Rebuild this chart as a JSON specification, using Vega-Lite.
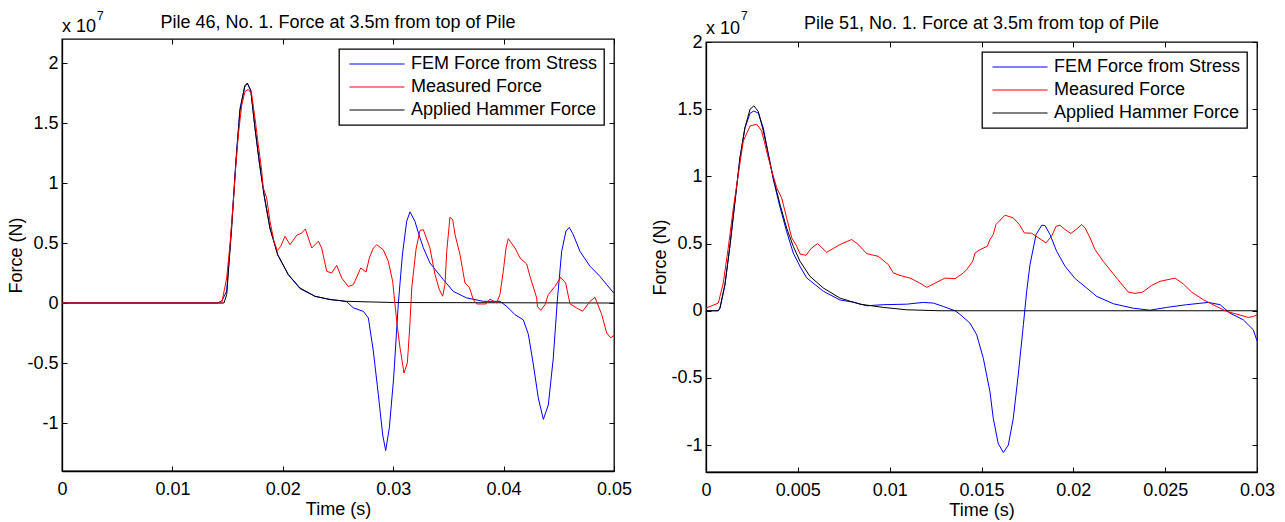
{
  "$schema": "https://vega.github.io/schema/vega-lite/v6.json",
  "autosize": {"type": "pad"},
  "padding": {"left": 7, "top": 9, "right": 5, "bottom": 5},
  "background": "white",
  "spacing": 92,
  "bounds": "flush",
  "config": {
    "font": "Liberation Sans",
    "view": {"stroke": "black", "strokeWidth": 1.3},
    "axis": {"labelFont": "Liberation Sans", "labelFontSize": 18, "labelColor": "black", "titleFont": "Liberation Sans", "titleFontSize": 18, "titleFontWeight": "normal", "titleColor": "black", "domainColor": "black", "domainWidth": 1.3, "tickColor": "black", "tickSize": -5, "tickWidth": 1, "grid": false, "labelFlush": false, "labelOverlap": false},
    "axisX": {"labelPadding": 14, "titlePadding": 2},
    "axisY": {"labelPadding": 9, "titlePadding": 1},
    "title": {"font": "Liberation Sans", "fontSize": 18, "fontWeight": "normal", "color": "black", "frame": "group", "baseline": "alphabetic", "anchor": "middle"},
    "text": {"font": "Liberation Sans", "fontWeight": "normal"},
    "legend": {"orient": "top-right", "offset": 10, "strokeColor": "black", "strokeWidth": 1.3, "fillColor": "white", "padding": 6, "symbolType": "M-5,0H5", "symbolSize": 121, "symbolStrokeWidth": 1, "symbolOffset": 23, "labelOffset": 25, "labelLimit": 0, "labelFont": "Liberation Sans", "labelFontSize": 18, "labelColor": "black", "rowPadding": 5, "cornerRadius": 0}
  },
  "datasets": {
    "p46": [
      {"series": "FEM Force from Stress", "t": 0, "f": 0},
      {"series": "FEM Force from Stress", "t": 0.0141, "f": 0},
      {"series": "FEM Force from Stress", "t": 0.0145, "f": 0.02},
      {"series": "FEM Force from Stress", "t": 0.01492, "f": 0.1},
      {"series": "FEM Force from Stress", "t": 0.01537, "f": 0.65},
      {"series": "FEM Force from Stress", "t": 0.01576, "f": 1.2},
      {"series": "FEM Force from Stress", "t": 0.01612, "f": 1.62},
      {"series": "FEM Force from Stress", "t": 0.01655, "f": 1.8},
      {"series": "FEM Force from Stress", "t": 0.01679, "f": 1.83},
      {"series": "FEM Force from Stress", "t": 0.0171, "f": 1.77},
      {"series": "FEM Force from Stress", "t": 0.01748, "f": 1.46},
      {"series": "FEM Force from Stress", "t": 0.01787, "f": 1.17},
      {"series": "FEM Force from Stress", "t": 0.0183, "f": 0.9},
      {"series": "FEM Force from Stress", "t": 0.01884, "f": 0.62},
      {"series": "FEM Force from Stress", "t": 0.01954, "f": 0.4},
      {"series": "FEM Force from Stress", "t": 0.0205, "f": 0.235},
      {"series": "FEM Force from Stress", "t": 0.02156, "f": 0.12},
      {"series": "FEM Force from Stress", "t": 0.02292, "f": 0.055},
      {"series": "FEM Force from Stress", "t": 0.02428, "f": 0.03},
      {"series": "FEM Force from Stress", "t": 0.0252, "f": 0.02},
      {"series": "FEM Force from Stress", "t": 0.02579, "f": 0.01},
      {"series": "FEM Force from Stress", "t": 0.02639, "f": -0.04},
      {"series": "FEM Force from Stress", "t": 0.0273, "f": -0.07},
      {"series": "FEM Force from Stress", "t": 0.02775, "f": -0.125},
      {"series": "FEM Force from Stress", "t": 0.0282, "f": -0.4},
      {"series": "FEM Force from Stress", "t": 0.02865, "f": -0.76},
      {"series": "FEM Force from Stress", "t": 0.02905, "f": -1.1},
      {"series": "FEM Force from Stress", "t": 0.02932, "f": -1.23},
      {"series": "FEM Force from Stress", "t": 0.02965, "f": -1.04},
      {"series": "FEM Force from Stress", "t": 0.03004, "f": -0.625},
      {"series": "FEM Force from Stress", "t": 0.03046, "f": -0.01},
      {"series": "FEM Force from Stress", "t": 0.03083, "f": 0.4},
      {"series": "FEM Force from Stress", "t": 0.03122, "f": 0.68},
      {"series": "FEM Force from Stress", "t": 0.03152, "f": 0.76},
      {"series": "FEM Force from Stress", "t": 0.03197, "f": 0.68},
      {"series": "FEM Force from Stress", "t": 0.0324, "f": 0.55},
      {"series": "FEM Force from Stress", "t": 0.03273, "f": 0.46},
      {"series": "FEM Force from Stress", "t": 0.03333, "f": 0.333},
      {"series": "FEM Force from Stress", "t": 0.03454, "f": 0.195},
      {"series": "FEM Force from Stress", "t": 0.03544, "f": 0.097},
      {"series": "FEM Force from Stress", "t": 0.03666, "f": 0.042},
      {"series": "FEM Force from Stress", "t": 0.03816, "f": 0.014},
      {"series": "FEM Force from Stress", "t": 0.03967, "f": 0.014},
      {"series": "FEM Force from Stress", "t": 0.04028, "f": -0.028},
      {"series": "FEM Force from Stress", "t": 0.04103, "f": -0.097},
      {"series": "FEM Force from Stress", "t": 0.04178, "f": -0.14},
      {"series": "FEM Force from Stress", "t": 0.04224, "f": -0.26},
      {"series": "FEM Force from Stress", "t": 0.04269, "f": -0.51},
      {"series": "FEM Force from Stress", "t": 0.04314, "f": -0.79},
      {"series": "FEM Force from Stress", "t": 0.0436, "f": -0.97},
      {"series": "FEM Force from Stress", "t": 0.04405, "f": -0.85},
      {"series": "FEM Force from Stress", "t": 0.0445, "f": -0.46},
      {"series": "FEM Force from Stress", "t": 0.04486, "f": 0.014},
      {"series": "FEM Force from Stress", "t": 0.04526, "f": 0.43},
      {"series": "FEM Force from Stress", "t": 0.04565, "f": 0.6},
      {"series": "FEM Force from Stress", "t": 0.04595, "f": 0.63},
      {"series": "FEM Force from Stress", "t": 0.04631, "f": 0.57},
      {"series": "FEM Force from Stress", "t": 0.04692, "f": 0.43},
      {"series": "FEM Force from Stress", "t": 0.04783, "f": 0.306},
      {"series": "FEM Force from Stress", "t": 0.04873, "f": 0.222},
      {"series": "FEM Force from Stress", "t": 0.04934, "f": 0.153},
      {"series": "FEM Force from Stress", "t": 0.05, "f": 0.08},
      {"series": "Applied Hammer Force", "t": 0, "f": 0},
      {"series": "Applied Hammer Force", "t": 0.01467, "f": 0},
      {"series": "Applied Hammer Force", "t": 0.01492, "f": 0.07},
      {"series": "Applied Hammer Force", "t": 0.01537, "f": 0.625},
      {"series": "Applied Hammer Force", "t": 0.01576, "f": 1.18},
      {"series": "Applied Hammer Force", "t": 0.01612, "f": 1.6},
      {"series": "Applied Hammer Force", "t": 0.01655, "f": 1.81},
      {"series": "Applied Hammer Force", "t": 0.01679, "f": 1.833},
      {"series": "Applied Hammer Force", "t": 0.0171, "f": 1.77},
      {"series": "Applied Hammer Force", "t": 0.01748, "f": 1.458},
      {"series": "Applied Hammer Force", "t": 0.01787, "f": 1.18},
      {"series": "Applied Hammer Force", "t": 0.0183, "f": 0.903},
      {"series": "Applied Hammer Force", "t": 0.01884, "f": 0.625},
      {"series": "Applied Hammer Force", "t": 0.01954, "f": 0.403},
      {"series": "Applied Hammer Force", "t": 0.0205, "f": 0.237},
      {"series": "Applied Hammer Force", "t": 0.02156, "f": 0.125},
      {"series": "Applied Hammer Force", "t": 0.02292, "f": 0.056},
      {"series": "Applied Hammer Force", "t": 0.02428, "f": 0.028},
      {"series": "Applied Hammer Force", "t": 0.02579, "f": 0.014},
      {"series": "Applied Hammer Force", "t": 0.03, "f": 0.004},
      {"series": "Applied Hammer Force", "t": 0.05, "f": 0},
      {"series": "Measured Force", "t": 0, "f": 0},
      {"series": "Measured Force", "t": 0.01447, "f": 0},
      {"series": "Measured Force", "t": 0.01492, "f": 0.21},
      {"series": "Measured Force", "t": 0.01522, "f": 0.49},
      {"series": "Measured Force", "t": 0.01552, "f": 0.85},
      {"series": "Measured Force", "t": 0.01573, "f": 1.125},
      {"series": "Measured Force", "t": 0.01597, "f": 1.4},
      {"series": "Measured Force", "t": 0.01628, "f": 1.65},
      {"series": "Measured Force", "t": 0.01658, "f": 1.764},
      {"series": "Measured Force", "t": 0.01688, "f": 1.78},
      {"series": "Measured Force", "t": 0.01718, "f": 1.74},
      {"series": "Measured Force", "t": 0.01748, "f": 1.54},
      {"series": "Measured Force", "t": 0.01778, "f": 1.32},
      {"series": "Measured Force", "t": 0.01809, "f": 1.1},
      {"series": "Measured Force", "t": 0.01823, "f": 0.96},
      {"series": "Measured Force", "t": 0.01854, "f": 0.875},
      {"series": "Measured Force", "t": 0.01884, "f": 0.68},
      {"series": "Measured Force", "t": 0.0192, "f": 0.514},
      {"series": "Measured Force", "t": 0.0195, "f": 0.437},
      {"series": "Measured Force", "t": 0.01981, "f": 0.472},
      {"series": "Measured Force", "t": 0.0202, "f": 0.556},
      {"series": "Measured Force", "t": 0.02065, "f": 0.486},
      {"series": "Measured Force", "t": 0.02126, "f": 0.564},
      {"series": "Measured Force", "t": 0.02171, "f": 0.583},
      {"series": "Measured Force", "t": 0.02204, "f": 0.617},
      {"series": "Measured Force", "t": 0.02262, "f": 0.458},
      {"series": "Measured Force", "t": 0.02322, "f": 0.514},
      {"series": "Measured Force", "t": 0.02352, "f": 0.458},
      {"series": "Measured Force", "t": 0.02398, "f": 0.264},
      {"series": "Measured Force", "t": 0.02443, "f": 0.25},
      {"series": "Measured Force", "t": 0.02488, "f": 0.314},
      {"series": "Measured Force", "t": 0.02534, "f": 0.208},
      {"series": "Measured Force", "t": 0.02593, "f": 0.137},
      {"series": "Measured Force", "t": 0.02639, "f": 0.153},
      {"series": "Measured Force", "t": 0.02706, "f": 0.292},
      {"series": "Measured Force", "t": 0.02754, "f": 0.258},
      {"series": "Measured Force", "t": 0.02784, "f": 0.375},
      {"series": "Measured Force", "t": 0.0282, "f": 0.458},
      {"series": "Measured Force", "t": 0.02851, "f": 0.486},
      {"series": "Measured Force", "t": 0.0291, "f": 0.444},
      {"series": "Measured Force", "t": 0.02956, "f": 0.347},
      {"series": "Measured Force", "t": 0.02995, "f": 0.181},
      {"series": "Measured Force", "t": 0.03032, "f": -0.153},
      {"series": "Measured Force", "t": 0.03062, "f": -0.375},
      {"series": "Measured Force", "t": 0.03098, "f": -0.583},
      {"series": "Measured Force", "t": 0.03128, "f": -0.5},
      {"series": "Measured Force", "t": 0.0315, "f": -0.2},
      {"series": "Measured Force", "t": 0.03168, "f": 0.125},
      {"series": "Measured Force", "t": 0.03207, "f": 0.45},
      {"series": "Measured Force", "t": 0.03243, "f": 0.605},
      {"series": "Measured Force", "t": 0.03273, "f": 0.611},
      {"series": "Measured Force", "t": 0.03333, "f": 0.458},
      {"series": "Measured Force", "t": 0.03379, "f": 0.236},
      {"series": "Measured Force", "t": 0.03418, "f": 0.111},
      {"series": "Measured Force", "t": 0.03448, "f": 0.056},
      {"series": "Measured Force", "t": 0.03469, "f": 0.153},
      {"series": "Measured Force", "t": 0.03485, "f": 0.43},
      {"series": "Measured Force", "t": 0.03514, "f": 0.714},
      {"series": "Measured Force", "t": 0.03539, "f": 0.694},
      {"series": "Measured Force", "t": 0.0356, "f": 0.57},
      {"series": "Measured Force", "t": 0.03605, "f": 0.403},
      {"series": "Measured Force", "t": 0.0365, "f": 0.167},
      {"series": "Measured Force", "t": 0.03689, "f": 0.131},
      {"series": "Measured Force", "t": 0.03726, "f": 0.028},
      {"series": "Measured Force", "t": 0.03756, "f": -0.008},
      {"series": "Measured Force", "t": 0.03841, "f": -0.008},
      {"series": "Measured Force", "t": 0.03877, "f": 0.033},
      {"series": "Measured Force", "t": 0.03937, "f": 0},
      {"series": "Measured Force", "t": 0.03967, "f": 0.07},
      {"series": "Measured Force", "t": 0.03997, "f": 0.264},
      {"series": "Measured Force", "t": 0.04022, "f": 0.458},
      {"series": "Measured Force", "t": 0.04043, "f": 0.536},
      {"series": "Measured Force", "t": 0.04103, "f": 0.458},
      {"series": "Measured Force", "t": 0.04149, "f": 0.375},
      {"series": "Measured Force", "t": 0.04209, "f": 0.325},
      {"series": "Measured Force", "t": 0.04239, "f": 0.222},
      {"series": "Measured Force", "t": 0.043, "f": 0.042},
      {"series": "Measured Force", "t": 0.04306, "f": -0.028},
      {"series": "Measured Force", "t": 0.04336, "f": -0.061},
      {"series": "Measured Force", "t": 0.04375, "f": -0.014},
      {"series": "Measured Force", "t": 0.04405, "f": 0.07},
      {"series": "Measured Force", "t": 0.04466, "f": 0.139},
      {"series": "Measured Force", "t": 0.04517, "f": 0.214},
      {"series": "Measured Force", "t": 0.04562, "f": 0.167},
      {"series": "Measured Force", "t": 0.04601, "f": -0.006},
      {"series": "Measured Force", "t": 0.04662, "f": -0.042},
      {"series": "Measured Force", "t": 0.04716, "f": -0.069},
      {"series": "Measured Force", "t": 0.04783, "f": 0.014},
      {"series": "Measured Force", "t": 0.04828, "f": 0.047},
      {"series": "Measured Force", "t": 0.04889, "f": -0.097},
      {"series": "Measured Force", "t": 0.04934, "f": -0.25},
      {"series": "Measured Force", "t": 0.0497, "f": -0.29},
      {"series": "Measured Force", "t": 0.05, "f": -0.27}
    ],
    "p51": [
      {"series": "FEM Force from Stress", "t": 0, "f": 0},
      {"series": "FEM Force from Stress", "t": 0.00067, "f": 0},
      {"series": "FEM Force from Stress", "t": 0.00076, "f": 0.02},
      {"series": "FEM Force from Stress", "t": 0.00103, "f": 0.19},
      {"series": "FEM Force from Stress", "t": 0.00131, "f": 0.49},
      {"series": "FEM Force from Stress", "t": 0.00158, "f": 0.816},
      {"series": "FEM Force from Stress", "t": 0.00185, "f": 1.139},
      {"series": "FEM Force from Stress", "t": 0.00212, "f": 1.36},
      {"series": "FEM Force from Stress", "t": 0.0024, "f": 1.47},
      {"series": "FEM Force from Stress", "t": 0.00261, "f": 1.487},
      {"series": "FEM Force from Stress", "t": 0.00285, "f": 1.47},
      {"series": "FEM Force from Stress", "t": 0.00312, "f": 1.36},
      {"series": "FEM Force from Stress", "t": 0.00339, "f": 1.17},
      {"series": "FEM Force from Stress", "t": 0.00366, "f": 0.98},
      {"series": "FEM Force from Stress", "t": 0.00403, "f": 0.77},
      {"series": "FEM Force from Stress", "t": 0.00439, "f": 0.59},
      {"series": "FEM Force from Stress", "t": 0.00475, "f": 0.43},
      {"series": "FEM Force from Stress", "t": 0.00512, "f": 0.33},
      {"series": "FEM Force from Stress", "t": 0.00548, "f": 0.245},
      {"series": "FEM Force from Stress", "t": 0.00639, "f": 0.145},
      {"series": "FEM Force from Stress", "t": 0.0073, "f": 0.08},
      {"series": "FEM Force from Stress", "t": 0.00802, "f": 0.064},
      {"series": "FEM Force from Stress", "t": 0.00875, "f": 0.037},
      {"series": "FEM Force from Stress", "t": 0.00965, "f": 0.045},
      {"series": "FEM Force from Stress", "t": 0.01093, "f": 0.049},
      {"series": "FEM Force from Stress", "t": 0.01183, "f": 0.062},
      {"series": "FEM Force from Stress", "t": 0.01238, "f": 0.057},
      {"series": "FEM Force from Stress", "t": 0.01292, "f": 0.032},
      {"series": "FEM Force from Stress", "t": 0.01356, "f": 0},
      {"series": "FEM Force from Stress", "t": 0.01383, "f": -0.027},
      {"series": "FEM Force from Stress", "t": 0.01437, "f": -0.092},
      {"series": "FEM Force from Stress", "t": 0.01474, "f": -0.179},
      {"series": "FEM Force from Stress", "t": 0.0151, "f": -0.354},
      {"series": "FEM Force from Stress", "t": 0.01546, "f": -0.602},
      {"series": "FEM Force from Stress", "t": 0.01564, "f": -0.8},
      {"series": "FEM Force from Stress", "t": 0.01591, "f": -0.988},
      {"series": "FEM Force from Stress", "t": 0.01619, "f": -1.055},
      {"series": "FEM Force from Stress", "t": 0.01646, "f": -1.0},
      {"series": "FEM Force from Stress", "t": 0.01673, "f": -0.8},
      {"series": "FEM Force from Stress", "t": 0.017, "f": -0.478},
      {"series": "FEM Force from Stress", "t": 0.01728, "f": -0.104},
      {"series": "FEM Force from Stress", "t": 0.01746, "f": 0.144},
      {"series": "FEM Force from Stress", "t": 0.01764, "f": 0.343},
      {"series": "FEM Force from Stress", "t": 0.01797, "f": 0.567},
      {"series": "FEM Force from Stress", "t": 0.01828, "f": 0.637},
      {"series": "FEM Force from Stress", "t": 0.01846, "f": 0.634},
      {"series": "FEM Force from Stress", "t": 0.01873, "f": 0.567},
      {"series": "FEM Force from Stress", "t": 0.01909, "f": 0.443},
      {"series": "FEM Force from Stress", "t": 0.01955, "f": 0.331},
      {"series": "FEM Force from Stress", "t": 0.0201, "f": 0.239},
      {"series": "FEM Force from Stress", "t": 0.02073, "f": 0.169},
      {"series": "FEM Force from Stress", "t": 0.02127, "f": 0.107},
      {"series": "FEM Force from Stress", "t": 0.02218, "f": 0.052},
      {"series": "FEM Force from Stress", "t": 0.02326, "f": 0.019},
      {"series": "FEM Force from Stress", "t": 0.02417, "f": 0.004},
      {"series": "FEM Force from Stress", "t": 0.02508, "f": 0.025},
      {"series": "FEM Force from Stress", "t": 0.02617, "f": 0.045},
      {"series": "FEM Force from Stress", "t": 0.02735, "f": 0.062},
      {"series": "FEM Force from Stress", "t": 0.02799, "f": 0.045},
      {"series": "FEM Force from Stress", "t": 0.02853, "f": -0.018},
      {"series": "FEM Force from Stress", "t": 0.02925, "f": -0.067},
      {"series": "FEM Force from Stress", "t": 0.0298, "f": -0.142},
      {"series": "FEM Force from Stress", "t": 0.03, "f": -0.224},
      {"series": "Applied Hammer Force", "t": 0, "f": 0},
      {"series": "Applied Hammer Force", "t": 0.00067, "f": 0},
      {"series": "Applied Hammer Force", "t": 0.00076, "f": 0.02},
      {"series": "Applied Hammer Force", "t": 0.00103, "f": 0.194},
      {"series": "Applied Hammer Force", "t": 0.00131, "f": 0.49},
      {"series": "Applied Hammer Force", "t": 0.00158, "f": 0.816},
      {"series": "Applied Hammer Force", "t": 0.00185, "f": 1.139},
      {"series": "Applied Hammer Force", "t": 0.00212, "f": 1.363},
      {"series": "Applied Hammer Force", "t": 0.0024, "f": 1.5},
      {"series": "Applied Hammer Force", "t": 0.00261, "f": 1.525},
      {"series": "Applied Hammer Force", "t": 0.00285, "f": 1.482},
      {"series": "Applied Hammer Force", "t": 0.00312, "f": 1.338},
      {"series": "Applied Hammer Force", "t": 0.00339, "f": 1.164},
      {"series": "Applied Hammer Force", "t": 0.00366, "f": 0.99},
      {"series": "Applied Hammer Force", "t": 0.00403, "f": 0.791},
      {"series": "Applied Hammer Force", "t": 0.00439, "f": 0.616},
      {"series": "Applied Hammer Force", "t": 0.00475, "f": 0.48},
      {"series": "Applied Hammer Force", "t": 0.00512, "f": 0.368},
      {"series": "Applied Hammer Force", "t": 0.00566, "f": 0.256},
      {"series": "Applied Hammer Force", "t": 0.00639, "f": 0.169},
      {"series": "Applied Hammer Force", "t": 0.0073, "f": 0.094},
      {"series": "Applied Hammer Force", "t": 0.00838, "f": 0.049},
      {"series": "Applied Hammer Force", "t": 0.00965, "f": 0.025},
      {"series": "Applied Hammer Force", "t": 0.01093, "f": 0.007},
      {"series": "Applied Hammer Force", "t": 0.01274, "f": 0},
      {"series": "Applied Hammer Force", "t": 0.03, "f": 0},
      {"series": "Measured Force", "t": 0, "f": 0.02},
      {"series": "Measured Force", "t": 0.00022, "f": 0.032},
      {"series": "Measured Force", "t": 0.00067, "f": 0.057},
      {"series": "Measured Force", "t": 0.00094, "f": 0.206},
      {"series": "Measured Force", "t": 0.00121, "f": 0.467},
      {"series": "Measured Force", "t": 0.00149, "f": 0.766},
      {"series": "Measured Force", "t": 0.00176, "f": 1.015},
      {"series": "Measured Force", "t": 0.00203, "f": 1.263},
      {"series": "Measured Force", "t": 0.0024, "f": 1.375},
      {"series": "Measured Force", "t": 0.00276, "f": 1.388},
      {"series": "Measured Force", "t": 0.00303, "f": 1.338},
      {"series": "Measured Force", "t": 0.0033, "f": 1.189},
      {"series": "Measured Force", "t": 0.00358, "f": 1.04},
      {"series": "Measured Force", "t": 0.00385, "f": 0.915},
      {"series": "Measured Force", "t": 0.00412, "f": 0.84},
      {"series": "Measured Force", "t": 0.00439, "f": 0.691},
      {"series": "Measured Force", "t": 0.00467, "f": 0.542},
      {"series": "Measured Force", "t": 0.00494, "f": 0.48},
      {"series": "Measured Force", "t": 0.00512, "f": 0.422},
      {"series": "Measured Force", "t": 0.00544, "f": 0.413},
      {"series": "Measured Force", "t": 0.00575, "f": 0.467},
      {"series": "Measured Force", "t": 0.00608, "f": 0.5},
      {"series": "Measured Force", "t": 0.00657, "f": 0.435},
      {"series": "Measured Force", "t": 0.0073, "f": 0.493},
      {"series": "Measured Force", "t": 0.00793, "f": 0.53},
      {"series": "Measured Force", "t": 0.00829, "f": 0.493},
      {"series": "Measured Force", "t": 0.00875, "f": 0.425},
      {"series": "Measured Force", "t": 0.00938, "f": 0.405},
      {"series": "Measured Force", "t": 0.00993, "f": 0.343},
      {"series": "Measured Force", "t": 0.0102, "f": 0.281},
      {"series": "Measured Force", "t": 0.01056, "f": 0.263},
      {"series": "Measured Force", "t": 0.01111, "f": 0.243},
      {"series": "Measured Force", "t": 0.01165, "f": 0.206},
      {"series": "Measured Force", "t": 0.01202, "f": 0.174},
      {"series": "Measured Force", "t": 0.01238, "f": 0.199},
      {"series": "Measured Force", "t": 0.01301, "f": 0.243},
      {"series": "Measured Force", "t": 0.01356, "f": 0.239},
      {"series": "Measured Force", "t": 0.01401, "f": 0.281},
      {"series": "Measured Force", "t": 0.01419, "f": 0.306},
      {"series": "Measured Force", "t": 0.01452, "f": 0.368},
      {"series": "Measured Force", "t": 0.01465, "f": 0.43},
      {"series": "Measured Force", "t": 0.01492, "f": 0.455},
      {"series": "Measured Force", "t": 0.01532, "f": 0.48},
      {"series": "Measured Force", "t": 0.01546, "f": 0.53},
      {"series": "Measured Force", "t": 0.01564, "f": 0.567},
      {"series": "Measured Force", "t": 0.01579, "f": 0.642},
      {"series": "Measured Force", "t": 0.01628, "f": 0.711},
      {"series": "Measured Force", "t": 0.01673, "f": 0.691},
      {"series": "Measured Force", "t": 0.01706, "f": 0.642},
      {"series": "Measured Force", "t": 0.01733, "f": 0.579},
      {"series": "Measured Force", "t": 0.01773, "f": 0.577},
      {"series": "Measured Force", "t": 0.01851, "f": 0.505},
      {"series": "Measured Force", "t": 0.01882, "f": 0.555},
      {"series": "Measured Force", "t": 0.01906, "f": 0.629},
      {"series": "Measured Force", "t": 0.01927, "f": 0.637},
      {"series": "Measured Force", "t": 0.01955, "f": 0.604},
      {"series": "Measured Force", "t": 0.01987, "f": 0.575},
      {"series": "Measured Force", "t": 0.02014, "f": 0.604},
      {"series": "Measured Force", "t": 0.02046, "f": 0.642},
      {"series": "Measured Force", "t": 0.02064, "f": 0.616},
      {"series": "Measured Force", "t": 0.02091, "f": 0.542},
      {"series": "Measured Force", "t": 0.02118, "f": 0.455},
      {"series": "Measured Force", "t": 0.02163, "f": 0.368},
      {"series": "Measured Force", "t": 0.02236, "f": 0.243},
      {"series": "Measured Force", "t": 0.02299, "f": 0.139},
      {"series": "Measured Force", "t": 0.02336, "f": 0.129},
      {"series": "Measured Force", "t": 0.02378, "f": 0.139},
      {"series": "Measured Force", "t": 0.02427, "f": 0.189},
      {"series": "Measured Force", "t": 0.02472, "f": 0.219},
      {"series": "Measured Force", "t": 0.02554, "f": 0.243},
      {"series": "Measured Force", "t": 0.02599, "f": 0.199},
      {"series": "Measured Force", "t": 0.02644, "f": 0.139},
      {"series": "Measured Force", "t": 0.02708, "f": 0.082},
      {"series": "Measured Force", "t": 0.0278, "f": 0.032},
      {"series": "Measured Force", "t": 0.02835, "f": -0.005},
      {"series": "Measured Force", "t": 0.02889, "f": -0.025},
      {"series": "Measured Force", "t": 0.02953, "f": -0.05},
      {"series": "Measured Force", "t": 0.0298, "f": -0.043},
      {"series": "Measured Force", "t": 0.03, "f": -0.03}
    ]
  },
  "hconcat": [
    {
      "width": 552,
      "height": 432,
      "title": {"text": "Pile 46, No. 1. Force at 3.5m from top of Pile", "offset": -22},
      "layer": [
        {
          "data": {"name": "p46"},
          "mark": {"type": "line", "strokeWidth": 1, "clip": true},
          "encoding": {
            "x": {"field": "t", "type": "quantitative", "scale": {"domain": [0, 0.05], "nice": false, "zero": false},
                  "axis": {"orient": "bottom", "title": "Time (s)", "values": [0, 0.01, 0.02, 0.03, 0.04, 0.05], "labelExpr": "format(datum.value, '~g')"}},
            "y": {"field": "f", "type": "quantitative", "scale": {"domain": [-1.4, 2.2], "nice": false, "zero": false},
                  "axis": {"orient": "left", "title": "Force (N)", "values": [-1, -0.5, 0, 0.5, 1, 1.5, 2], "labelExpr": "datum.value < 0 ? '-' + format(-datum.value, '~g') : format(datum.value, '~g')"}},
            "color": {"field": "series", "type": "nominal",
                      "scale": {"domain": ["FEM Force from Stress", "Measured Force", "Applied Hammer Force"], "range": ["#0000ff", "#ff0000", "#000000"]},
                      "legend": {"title": null}}
          }
        },
        {
          "data": {"name": "p46"},
          "mark": {"type": "point", "opacity": 0},
          "encoding": {
            "x": {"field": "t", "type": "quantitative", "scale": {"domain": [0, 0.05], "nice": false, "zero": false},
                  "axis": {"orient": "top", "title": null, "labels": false, "domain": false, "values": [0, 0.01, 0.02, 0.03, 0.04, 0.05]}},
            "y": {"field": "f", "type": "quantitative", "scale": {"domain": [-1.4, 2.2], "nice": false, "zero": false},
                  "axis": {"orient": "right", "title": null, "labels": false, "domain": false, "values": [-1, -0.5, 0, 0.5, 1, 1.5, 2]}}
          }
        },
        {
          "data": {"values": [{"txt": "x 10", "sup": "7"}]},
          "mark": {"type": "text", "align": "left", "baseline": "alphabetic", "fontSize": 18, "dy": -7, "color": "black", "font": "Liberation Sans", "fontWeight": "normal"},
          "encoding": {
            "x": {"datum": 0, "type": "quantitative", "axis": null},
            "y": {"datum": 2.2, "type": "quantitative", "axis": null},
            "text": {"field": "txt"}
          }
        },
        {
          "data": {"values": [{"txt": "x 10", "sup": "7"}]},
          "mark": {"type": "text", "align": "left", "baseline": "alphabetic", "fontSize": 12, "dx": 35, "dy": -19, "color": "black", "font": "Liberation Sans", "fontWeight": "normal"},
          "encoding": {
            "x": {"datum": 0, "type": "quantitative", "axis": null},
            "y": {"datum": 2.2, "type": "quantitative", "axis": null},
            "text": {"field": "sup"}
          }
        }
      ],
      "resolve": {"axis": {"x": "independent", "y": "independent"}}
    },
    {
      "spacing": 0,
      "bounds": "flush",
      "resolve": {"scale": {"color": "independent"}, "legend": {"color": "independent"}},
      "vconcat": [
        {
          "width": 551,
          "height": 3,
          "view": {"stroke": null},
          "data": {"values": [{"k": 0}]},
          "mark": {"type": "rule", "opacity": 0},
          "encoding": {}
        },
        {
          "width": 551,
          "height": 430,
          "title": {"text": "Pile 51, No. 1. Force at 3.5m from top of Pile", "offset": -23},
          "layer": [
            {
              "data": {"name": "p51"},
              "mark": {"type": "line", "strokeWidth": 1, "clip": true},
              "encoding": {
                "x": {"field": "t", "type": "quantitative", "scale": {"domain": [0, 0.03], "nice": false, "zero": false},
                      "axis": {"orient": "bottom", "title": "Time (s)", "values": [0, 0.005, 0.01, 0.015, 0.02, 0.025, 0.03], "labelExpr": "format(datum.value, '~g')"}},
                "y": {"field": "f", "type": "quantitative", "scale": {"domain": [-1.2, 2], "nice": false, "zero": false},
                      "axis": {"orient": "left", "title": "Force (N)", "values": [-1, -0.5, 0, 0.5, 1, 1.5, 2], "labelExpr": "datum.value < 0 ? '-' + format(-datum.value, '~g') : format(datum.value, '~g')"}},
                "color": {"field": "series", "type": "nominal",
                          "scale": {"domain": ["FEM Force from Stress", "Measured Force", "Applied Hammer Force"], "range": ["#0000ff", "#ff0000", "#000000"]},
                          "legend": {"title": null}}
              }
            },
            {
              "data": {"name": "p51"},
              "mark": {"type": "point", "opacity": 0},
              "encoding": {
                "x": {"field": "t", "type": "quantitative", "scale": {"domain": [0, 0.03], "nice": false, "zero": false},
                      "axis": {"orient": "top", "title": null, "labels": false, "domain": false, "values": [0, 0.005, 0.01, 0.015, 0.02, 0.025, 0.03]}},
                "y": {"field": "f", "type": "quantitative", "scale": {"domain": [-1.2, 2], "nice": false, "zero": false},
                      "axis": {"orient": "right", "title": null, "labels": false, "domain": false, "values": [-1, -0.5, 0, 0.5, 1, 1.5, 2]}}
              }
            },
            {
              "data": {"values": [{"txt": "x 10", "sup": "7"}]},
              "mark": {"type": "text", "align": "left", "baseline": "alphabetic", "fontSize": 18, "dy": -8, "color": "black", "font": "Liberation Sans", "fontWeight": "normal"},
              "encoding": {
                "x": {"datum": 0, "type": "quantitative", "axis": null},
                "y": {"datum": 2, "type": "quantitative", "axis": null},
                "text": {"field": "txt"}
              }
            },
            {
              "data": {"values": [{"txt": "x 10", "sup": "7"}]},
              "mark": {"type": "text", "align": "left", "baseline": "alphabetic", "fontSize": 12, "dx": 35, "dy": -22, "color": "black", "font": "Liberation Sans", "fontWeight": "normal"},
              "encoding": {
                "x": {"datum": 0, "type": "quantitative", "axis": null},
                "y": {"datum": 2, "type": "quantitative", "axis": null},
                "text": {"field": "sup"}
              }
            }
          ],
          "resolve": {"axis": {"x": "independent", "y": "independent"}}
        }
      ]
    }
  ],
  "resolve": {"scale": {"color": "independent"}, "legend": {"color": "independent"}}
}
